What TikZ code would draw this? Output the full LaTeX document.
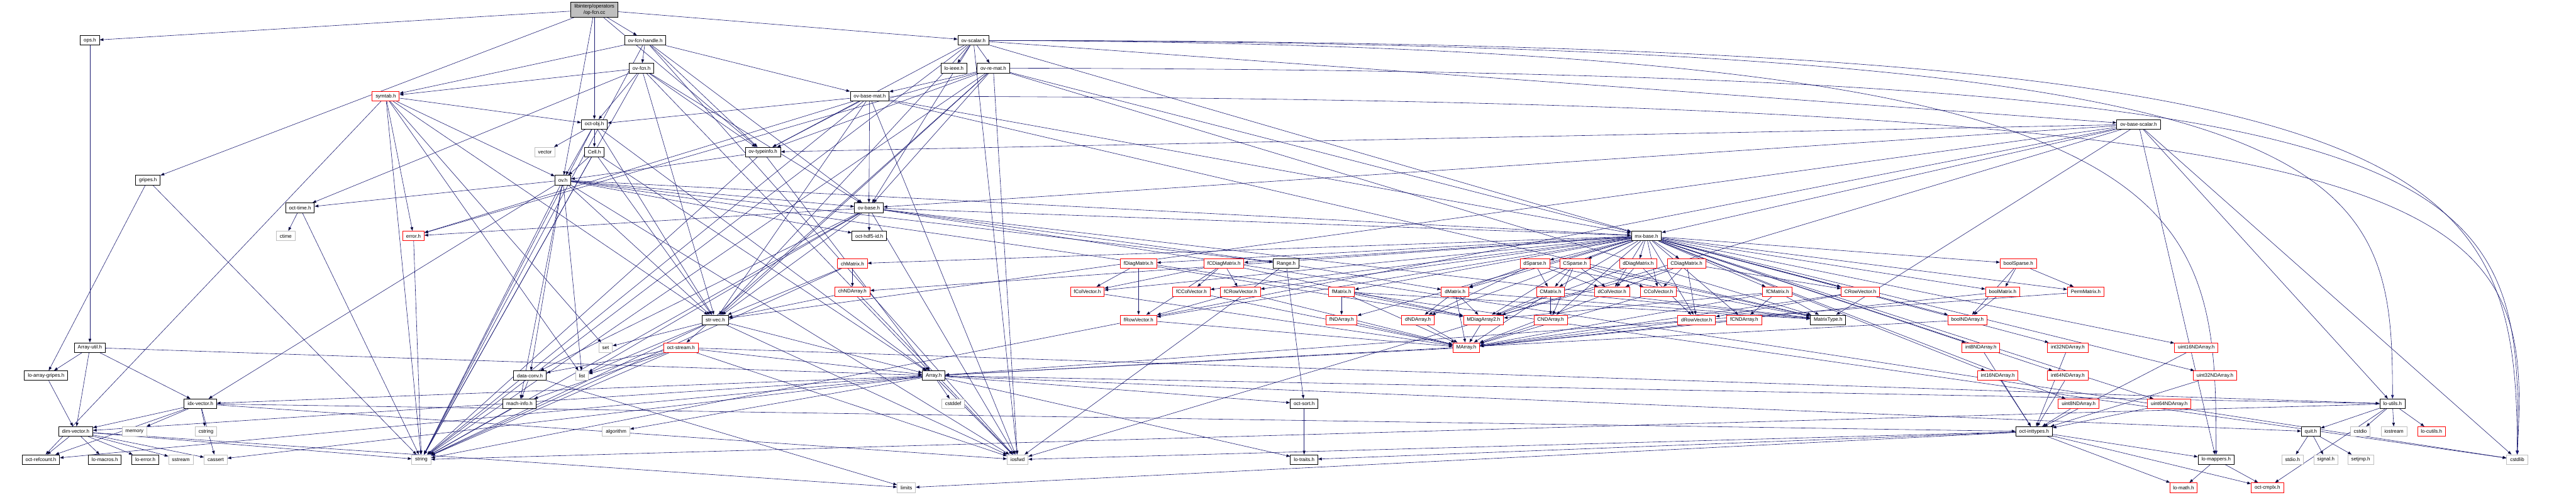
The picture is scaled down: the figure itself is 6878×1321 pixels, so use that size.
\documentclass[tikz,border=0pt]{standalone}
\usepackage{fontspec}
\setmainfont{Liberation Sans}
\usetikzlibrary{arrows.meta,backgrounds}

\definecolor{edgeblue}{HTML}{191970}
\definecolor{extgray}{HTML}{BFBFBF}

\begin{document}
\begin{tikzpicture}[x=0.1mm,y=-0.1mm,
  hdr/.style={rectangle,draw=black,line width=0.15mm,fill=white,minimum height=2.56mm,
              inner xsep=0.9mm,inner ysep=0pt,font=\fontsize{3.8pt}{4.6pt}\selectfont},
  trunc/.style={hdr,draw=red},
  ext/.style={hdr,draw=extgray},
  rootfile/.style={hdr,fill=extgray,align=center,minimum height=4mm},
  arr/.style={draw=edgeblue,line width=0.1mm,-{Triangle[length=1mm,width=0.75mm]}},
]
\useasboundingbox (0,0) rectangle (6878,1321);

% Root file
\node[rootfile] (opfcn) at (1587,26) {libinterp/operators\\/op-fcn.cc};

% Rows 1--4: octave_value headers
\node[hdr] (opsh) at (240,108) {ops.h};
\node[hdr] (ovfcnhandle) at (1723,108) {ov-fcn-handle.h};
\node[hdr] (ovscalar) at (2599,108) {ov-scalar.h};
\node[hdr] (ovfcn) at (1713,182) {ov-fcn.h};
\node[hdr] (loieee) at (2547,182) {lo-ieee.h};
\node[hdr] (ovremat) at (2652,182) {ov-re-mat.h};
\node[trunc] (symtab) at (1030,257) {symtab.h};
\node[hdr] (ovbasemat) at (2322,257) {ov-base-mat.h};
\node[hdr] (octobj) at (1587,332) {oct-obj.h};
\node[hdr] (ovbasescalar) at (5710,332) {ov-base-scalar.h};

% Rows 5--8
\node[ext] (vector) at (1455,406) {vector};
\node[hdr] (cellh) at (1587,406) {Cell.h};
\node[hdr] (ovtypeinfo) at (2037,406) {ov-typeinfo.h};
\node[hdr] (gripes) at (395,481) {gripes.h};
\node[hdr] (ovh) at (1503,481) {ov.h};
\node[hdr] (octtime) at (801,555) {oct-time.h};
\node[hdr] (ovbase) at (2320,555) {ov-base.h};
\node[ext] (ctime) at (763,630) {ctime};
\node[trunc] (errorh) at (1104,630) {error.h};
\node[hdr] (octhdf) at (2321,630) {oct-hdf5-id.h};
\node[hdr] (mxbase) at (4396,630) {mx-base.h};

% Row 9: matrix types
\node[trunc] (chmatrix) at (2276,704) {chMatrix.h};
\node[trunc] (fdiag) at (3040,704) {fDiagMatrix.h};
\node[trunc] (fcdiag) at (3268,704) {fCDiagMatrix.h};
\node[hdr] (rangeh) at (3434,704) {Range.h};
\node[trunc] (dsparse) at (4098,704) {dSparse.h};
\node[trunc] (csparse) at (4205,704) {CSparse.h};
\node[trunc] (ddiag) at (4374,704) {dDiagMatrix.h};
\node[trunc] (cdiag) at (4503,704) {CDiagMatrix.h};
\node[trunc] (boolsparse) at (5389,704) {boolSparse.h};

% Row 10
\node[trunc] (chnd) at (2276,779) {chNDArray.h};
\node[trunc] (fcolvec) at (2903,779) {fColVector.h};
\node[trunc] (fccolvec) at (3181,779) {fCColVector.h};
\node[trunc] (fcrowvec) at (3312,779) {fCRowVector.h};
\node[trunc] (fmatrix) at (3582,779) {fMatrix.h};
\node[trunc] (dmatrix) at (3885,779) {dMatrix.h};
\node[trunc] (cmatrix) at (4140,779) {CMatrix.h};
\node[trunc] (dcolvec) at (4304,779) {dColVector.h};
\node[trunc] (ccolvec) at (4428,779) {CColVector.h};
\node[trunc] (fcmatrix) at (4746,779) {fCMatrix.h};
\node[trunc] (crowvec) at (4967,779) {CRowVector.h};
\node[trunc] (boolmatrix) at (5347,779) {boolMatrix.h};
\node[trunc] (permmatrix) at (5569,779) {PermMatrix.h};

% Row 11
\node[hdr] (strvec) at (1910,854) {str-vec.h};
\node[trunc] (frowvec) at (3040,854) {fRowVector.h};
\node[trunc] (fnd) at (3582,854) {fNDArray.h};
\node[trunc] (dnd) at (3786,854) {dNDArray.h};
\node[trunc] (mdiag) at (3961,854) {MDiagArray2.h};
\node[trunc] (cnd) at (4140,854) {CNDArray.h};
\node[trunc] (drowvec) at (4530,854) {dRowVector.h};
\node[trunc] (fcnd) at (4657,854) {fCNDArray.h};
\node[hdr] (matrixtype) at (4881,854) {MatrixType.h};
\node[trunc] (boolnd) at (5253,854) {boolNDArray.h};

% Row 12
\node[hdr] (arrayutil) at (240,928) {Array-util.h};
\node[ext] (seth) at (1617,928) {set};
\node[trunc] (octstream) at (1818,928) {oct-stream.h};
\node[trunc] (marray) at (3915,928) {MArray.h};
\node[trunc] (int8nd) at (5289,928) {int8NDArray.h};
\node[trunc] (int32nd) at (5521,928) {int32NDArray.h};
\node[trunc] (uint16nd) at (5864,928) {uint16NDArray.h};

% Row 13
\node[hdr] (arraygripes) at (123,1003) {lo-array-gripes.h};
\node[hdr] (dataconv) at (1415,1003) {data-conv.h};
\node[ext] (listh) at (1554,1003) {list};
\node[hdr] (arrayh) at (2493,1003) {Array.h};
\node[trunc] (int16nd) at (5334,1003) {int16NDArray.h};
\node[trunc] (int64nd) at (5521,1003) {int64NDArray.h};
\node[trunc] (uint32nd) at (5914,1003) {uint32NDArray.h};

% Row 14
\node[hdr] (idxvec) at (535,1078) {idx-vector.h};
\node[hdr] (machinfo) at (1387,1078) {mach-info.h};
\node[ext] (cstddef) at (2545,1078) {cstddef};
\node[hdr] (octsort) at (3482,1078) {oct-sort.h};
\node[trunc] (uint8nd) at (5550,1078) {uint8NDArray.h};
\node[trunc] (uint64nd) at (5792,1078) {uint64NDArray.h};
\node[hdr] (loutils) at (6388,1078) {lo-utils.h};

% Row 15
\node[hdr] (dimvec) at (202,1152) {dim-vector.h};
\node[ext] (memory) at (359,1152) {memory};
\node[ext] (cstring) at (550,1152) {cstring};
\node[ext] (algorithm) at (1645,1152) {algorithm};
\node[hdr] (inttypes) at (5431,1152) {oct-inttypes.h};
\node[hdr] (quith) at (6170,1152) {quit.h};
\node[ext] (cstdio) at (6302,1152) {cstdio};
\node[ext] (iostream) at (6392,1152) {iostream};
\node[trunc] (locutils) at (6492,1152) {lo-cutils.h};

% Rows 16--17: leaves
\node[hdr] (refcount) at (109,1227) {oct-refcount.h};
\node[hdr] (lomacros) at (280,1227) {lo-macros.h};
\node[hdr] (loerror) at (388,1227) {lo-error.h};
\node[ext] (sstream) at (483,1227) {sstream};
\node[ext] (cassert) at (576,1227) {cassert};
\node[ext] (stringh) at (1125,1227) {string};
\node[ext] (iosfwd) at (2717,1227) {iosfwd};
\node[hdr] (lotraits) at (3482,1227) {lo-traits.h};
\node[hdr] (lomappers) at (5917,1227) {lo-mappers.h};
\node[ext] (stdioh) at (6121,1227) {stdio.h};
\node[ext] (signalh) at (6210,1227) {signal.h};
\node[ext] (setjmph) at (6303,1227) {setjmp.h};
\node[ext] (cstdlib) at (6721,1227) {cstdlib};
\node[ext] (limits) at (2420,1302) {limits};
\node[trunc] (lomath) at (5830,1302) {lo-math.h};
\node[trunc] (octcmplx) at (6054,1302) {oct-cmplx.h};

% Include edges, under the boxes
\begin{scope}[on background layer]
\draw[arr] (opfcn) edge (opsh) edge (gripes) edge (octobj) edge (ovh)
  edge (ovfcnhandle) edge (ovtypeinfo) edge (ovscalar);
\draw[arr] (opsh) edge (arrayutil);
\draw[arr] (ovfcnhandle) edge (stringh) edge (iosfwd) edge (ovfcn) edge (ovtypeinfo)
  edge (ovbasemat) edge (ovbase) edge (symtab);
\draw[arr] (ovfcn) edge (octtime) edge (stringh) edge (octobj) edge (strvec)
  edge (ovtypeinfo) edge (ovbase) edge (symtab) edge (iosfwd);
\draw[arr] (ovscalar) edge (loieee) edge (ovremat) edge (ovbase) edge (ovtypeinfo)
  edge (strvec) edge (mxbase) edge (iosfwd) edge (stringh) edge (ovbasescalar);
% long sweeps to the far right
\draw[arr] (ovscalar.east) .. controls (6500,110) and (6721,400) .. (cstdlib.north);
\draw[arr] (ovscalar.east) .. controls (6300,116) and (6388,420) .. (loutils.north);
\draw[arr] (ovscalar.east) .. controls (5880,122) and (5917,500) .. (lomappers.north);
\draw[arr] (ovremat.east) .. controls (6600,190) and (6740,420) .. (cstdlib.north);
\draw[arr] (ovbasemat.east) .. controls (6650,265) and (6760,520) .. (cstdlib.north);
\draw[arr] (ovremat) edge (ovbasemat) edge (ovbase) edge (ovtypeinfo) edge (strvec)
  edge (mxbase) edge (octstream) edge (errorh) edge (matrixtype) edge (iosfwd)
  edge (stringh);
\draw[arr] (ovbasemat) edge (octobj) edge (ovbase) edge (ovtypeinfo) edge (strvec)
  edge (mxbase) edge (errorh) edge (matrixtype) edge (iosfwd) edge (stringh);
\draw[arr] (symtab) edge (refcount) edge (stringh) edge (errorh) edge (ovh)
  edge (octobj) edge (seth) edge (listh) edge (strvec);
\draw[arr] (octobj) edge (vector) edge (cellh) edge (ovh) edge (stringh)
  edge (strvec) edge (arrayh);
\draw[arr] (cellh) edge (ovh) edge (stringh) edge (arrayh) edge (strvec);
\draw[arr] (ovtypeinfo) edge (ovh) edge (stringh) edge (arrayh);
\draw[arr] (ovbasescalar) edge (ovbase) edge (ovtypeinfo) edge (strvec) edge (mxbase)
  edge (matrixtype) edge (iosfwd) edge (stringh) edge (lomappers) edge (loutils)
  edge (cstdlib);
\draw[arr] (gripes) edge (arraygripes) edge (stringh);
\draw[arr] (ovh) edge (ovbase) edge (rangeh) edge (dataconv) edge (idxvec)
  edge (machinfo) edge (strvec) edge (octtime) edge (octhdf) edge (mxbase)
  edge (listh) edge (iosfwd) edge (stringh) edge (cstdlib);
\draw[arr] (octtime) edge (ctime) edge (stringh);
\draw[arr] (ovbase) edge (rangeh) edge (dataconv) edge (mxbase) edge (strvec)
  edge (errorh) edge (octhdf) edge (matrixtype) edge (listh) edge (iosfwd)
  edge (stringh) edge (cstdlib);
\draw[arr] (errorh) edge (stringh);
\draw[arr] (mxbase) edge (chmatrix) edge (chnd) edge (fdiag) edge (fcdiag)
  edge (fcolvec) edge (fccolvec) edge (fcrowvec) edge (frowvec) edge (fmatrix)
  edge (fnd) edge (fcmatrix) edge (fcnd) edge (dsparse) edge (csparse)
  edge (ddiag) edge (cdiag) edge (dmatrix) edge (dnd) edge (cmatrix) edge (cnd)
  edge (dcolvec) edge (ccolvec) edge (drowvec) edge (crowvec) edge (boolsparse)
  edge (boolmatrix) edge (boolnd) edge (permmatrix) edge (int8nd) edge (int16nd)
  edge (int32nd) edge (int64nd) edge (uint8nd) edge (uint16nd) edge (uint32nd)
  edge (uint64nd);
\draw[arr] (chmatrix) edge (chnd) edge (strvec) edge (stringh);
\draw[arr] (chnd) edge (strvec) edge (arrayh);
\draw[arr] (fdiag) edge (fcolvec) edge (frowvec) edge (mdiag);
\draw[arr] (fcdiag) edge (fcolvec) edge (fccolvec) edge (fcrowvec) edge (frowvec)
  edge (mdiag);
\draw[arr] (rangeh) edge (dmatrix) edge (octsort) edge (iosfwd);
\draw[arr] (dsparse) edge (dmatrix) edge (dnd) edge (cmatrix) edge (dcolvec)
  edge (matrixtype);
\draw[arr] (csparse) edge (cmatrix) edge (cnd) edge (dcolvec) edge (ccolvec)
  edge (mdiag) edge (matrixtype);
\draw[arr] (ddiag) edge (dcolvec) edge (drowvec) edge (mdiag);
\draw[arr] (cdiag) edge (ccolvec) edge (dcolvec) edge (drowvec) edge (crowvec)
  edge (mdiag);
\draw[arr] (boolsparse) edge (boolmatrix) edge (boolnd) edge (permmatrix);
\draw[arr] (fcrowvec) edge (frowvec) edge (marray);
\draw[arr] (fmatrix) edge (fnd) edge (mdiag) edge (marray) edge (matrixtype);
\draw[arr] (dmatrix) edge (dnd) edge (mdiag) edge (marray) edge (matrixtype);
\draw[arr] (cmatrix) edge (cnd) edge (mdiag) edge (marray) edge (matrixtype);
\draw[arr] (fcmatrix) edge (fcnd) edge (mdiag) edge (marray) edge (matrixtype);
\draw[arr] (crowvec) edge (drowvec) edge (marray);
\draw[arr] (boolmatrix) edge (boolnd) edge (marray);
\draw[arr] (permmatrix) edge (arrayh);
\draw[arr] (boolnd) edge (arrayh);
\draw[arr] (fcolvec) edge (marray);
\draw[arr] (fccolvec) edge (marray);
\draw[arr] (dcolvec) edge (marray);
\draw[arr] (ccolvec) edge (marray);
\draw[arr] (frowvec) edge (marray);
\draw[arr] (fnd) edge (marray);
\draw[arr] (dnd) edge (marray);
\draw[arr] (mdiag) edge (marray);
\draw[arr] (cnd) edge (marray);
\draw[arr] (drowvec) edge (marray);
\draw[arr] (fcnd) edge (marray);
\draw[arr] (marray) edge (arrayh);
\draw[arr] (int8nd) edge (inttypes);
\draw[arr] (int16nd) edge (inttypes);
\draw[arr] (int32nd) edge (inttypes);
\draw[arr] (int64nd) edge (inttypes);
\draw[arr] (uint8nd) edge (inttypes);
\draw[arr] (uint16nd) edge (inttypes);
\draw[arr] (uint32nd) edge (inttypes);
\draw[arr] (uint64nd) edge (inttypes);
\draw[arr] (strvec) edge (seth) edge (listh) edge (stringh) edge (arrayh) edge (iosfwd);
\draw[arr] (octstream) edge (dataconv) edge (listh) edge (machinfo) edge (stringh)
  edge (arrayh) edge (loutils) edge (iosfwd);
\draw[arr] (dataconv) edge (machinfo) edge (limits);
\draw[arr] (machinfo) edge (stringh);
\draw[arr] (arrayutil) edge (arraygripes) edge (dimvec) edge (idxvec) edge (arrayh);
\draw[arr] (arraygripes) edge (dimvec);
\draw[arr] (arrayh) edge (cstddef) edge (iosfwd) edge (algorithm) edge (dimvec)
  edge (idxvec) edge (lotraits) edge (loutils) edge (octsort) edge (quith)
  edge (refcount) edge (cassert);
\draw[arr] (idxvec) edge (dimvec) edge (memory) edge (cstring) edge (cassert)
  edge (refcount) edge (iosfwd) edge (inttypes);
\draw[arr] (dimvec) edge (refcount) edge (lomacros) edge (loerror) edge (sstream)
  edge (cassert) edge (stringh) edge (limits);
\draw[arr] (octsort) edge (lotraits);
\draw[arr] (inttypes) edge (limits) edge (iosfwd) edge (lotraits) edge (octcmplx)
  edge (lomath) edge (lomappers);
\draw[arr] (loutils) edge (cstdio) edge (iostream) edge (stringh) edge (quith)
  edge (locutils) edge (octcmplx);
\draw[arr] (quith) edge (stdioh) edge (signalh) edge (setjmph);
\draw[arr] (lomappers) edge (lomath) edge (octcmplx);
\end{scope}

\end{tikzpicture}
\end{document}
